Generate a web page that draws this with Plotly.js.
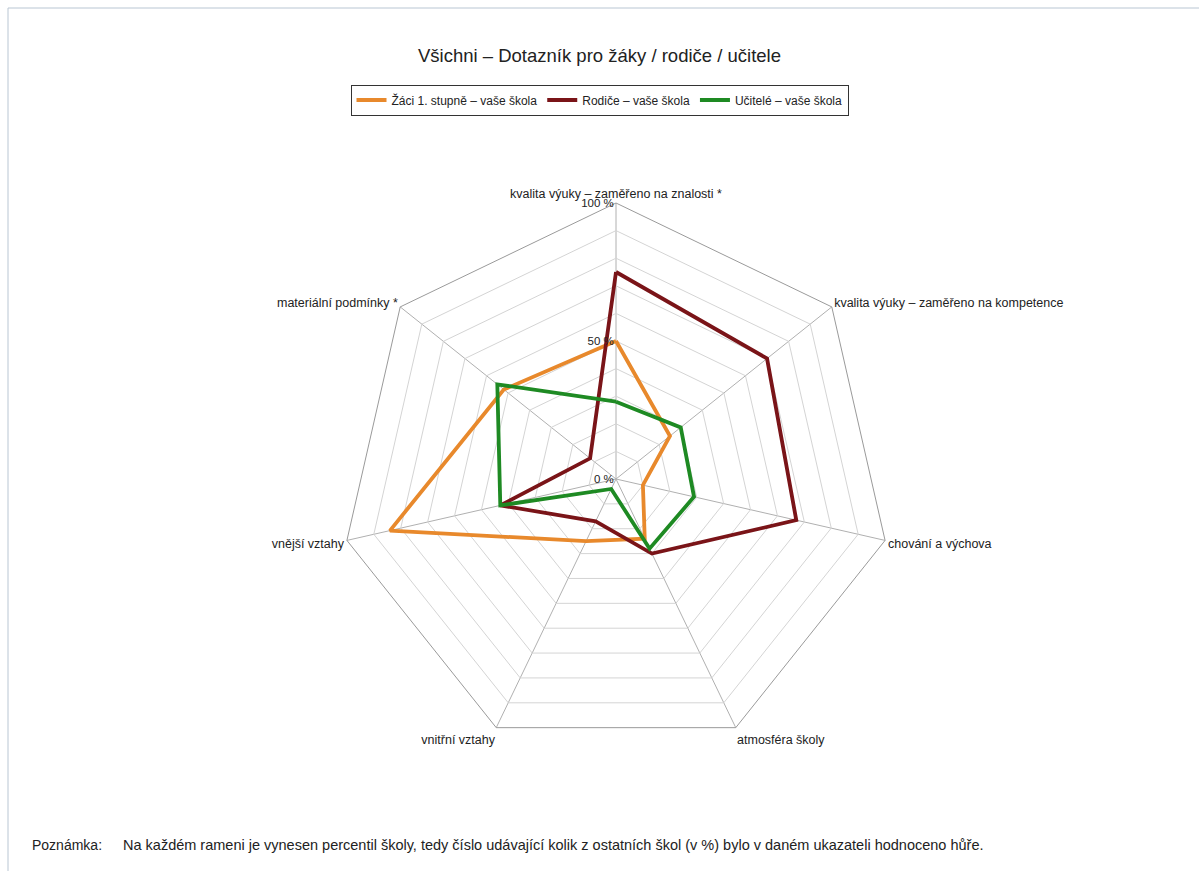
<!DOCTYPE html>
<html>
<head>
<meta charset="utf-8">
<script src="https://cdn.plot.ly/plotly-3.0.1.min.js"></script>
<style>
  html, body { margin: 0; padding: 0; background: #ffffff; }
  #chart { width: 1199px; height: 871px; }
</style>
</head>
<body>
<div id="chart"></div>
<script>
const categories = [
  'kvalita výuky – zaměřeno na znalosti *',
  'kvalita výuky – zaměřeno na kompetence',
  'chování a výchova',
  'atmosféra školy',
  'vnitřní vztahy',
  'vnější vztahy',
  'materiální podmínky *'
];
const seriesNames = ['Žáci 1. stupně – vaše škola', 'Rodiče – vaše škola', 'Učitelé – vaše škola'];
const zaciValues = [50, 25, 10, 24, 25, 84, 52];
const rodiceValues = [75, 70, 67, 30, 17, 43, 12];
const uciteleValues = [28, 30, 29, 28, 4, 43, 55];
const radialTicks = [0, 10, 20, 30, 40, 50, 60, 70, 80, 90, 100];
const radialTickText = ['0 %', '', '', '', '', '50 %', '', '', '', '', '100 %'];
const titleText = 'Všichni – Dotazník pro žáky / rodiče / učitele';
const noteLabel = 'Poznámka:';
const noteText = 'Na každém rameni je vynesen percentil školy, tedy číslo udávající kolik z ostatních škol (v %) bylo v daném ukazateli hodnoceno hůře.';

const colors = ['#e8892c', '#7a1418', '#1e8a23'];
const allValues = [zaciValues, rodiceValues, uciteleValues];

const font = 'Liberation Sans, Arial, sans-serif';

const traces = allValues.map((vals, i) => ({
  type: 'scatterpolar',
  r: vals.concat([vals[0]]),
  theta: categories.concat([categories[0]]),
  mode: 'lines',
  name: seriesNames[i],
  line: { color: colors[i], width: 3.8 },
  hoverinfo: 'skip'
}));

const layout = {
  width: 1199,
  height: 871,
  margin: { l: 0, r: 0, t: 0, b: 0 },
  paper_bgcolor: '#ffffff',
  plot_bgcolor: '#ffffff',
  font: { family: font, size: 12, color: '#222222' },
  title: {
    text: titleText,
    font: { family: font, size: 18.5, color: '#222222' },
    x: 0.5, xanchor: 'center',
    y: 1 - 56 / 871, yanchor: 'middle', yref: 'paper'
  },
  showlegend: true,
  legend: {
    orientation: 'h',
    x: 0.5, xanchor: 'center',
    y: 1 - 100 / 871, yanchor: 'middle',
    bordercolor: '#333333', borderwidth: 1,
    font: { family: font, size: 12, color: '#222222' },
    tracegroupgap: 0,
    itemwidth: 30
  },
  polar: {
    domain: { x: [(616 - 276) / 1199, (616 + 276) / 1199], y: [(392 - 276) / 871, (392 + 276) / 871] },
    gridshape: 'linear',
    bgcolor: '#ffffff',
    angularaxis: {
      direction: 'clockwise',
      rotation: 90,
      type: 'category',
      showline: true,
      linecolor: '#9a9a9a',
      linewidth: 1,
      gridcolor: '#b0b0b0',
      gridwidth: 1,
      ticks: '',
      tickfont: { family: font, size: 12.5, color: '#222222' }
    },
    radialaxis: {
      range: [0, 100],
      angle: 90,
      side: 'counterclockwise',
      tickvals: radialTicks,
      ticktext: radialTickText,
      showline: false,
      ticks: '',
      gridcolor: '#d4d4d4',
      gridwidth: 1,
      tickfont: { family: font, size: 11.5, color: '#222222' },
      tickangle: 90
    }
  },
  shapes: [
    { type: 'rect', xref: 'paper', yref: 'paper', x0: 8 / 1199, x1: 1.01, y0: -0.01, y1: 1 - 8 / 871,
      line: { color: '#b9c6d3', width: 1 }, fillcolor: 'rgba(0,0,0,0)' }
  ],
  annotations: [
    { text: noteLabel, xref: 'paper', yref: 'paper', x: 30 / 1199, y: 1 - 845 / 871,
      xanchor: 'left', yanchor: 'middle', showarrow: false,
      font: { family: font, size: 14, color: '#222222' } },
    { text: noteText, xref: 'paper', yref: 'paper', x: 121 / 1199, y: 1 - 845 / 871,
      xanchor: 'left', yanchor: 'middle', showarrow: false,
      font: { family: font, size: 14.5, color: '#222222' } }
  ]
};

Plotly.newPlot('chart', traces, layout, { displayModeBar: false, staticPlot: true });
</script>
</body>
</html>
